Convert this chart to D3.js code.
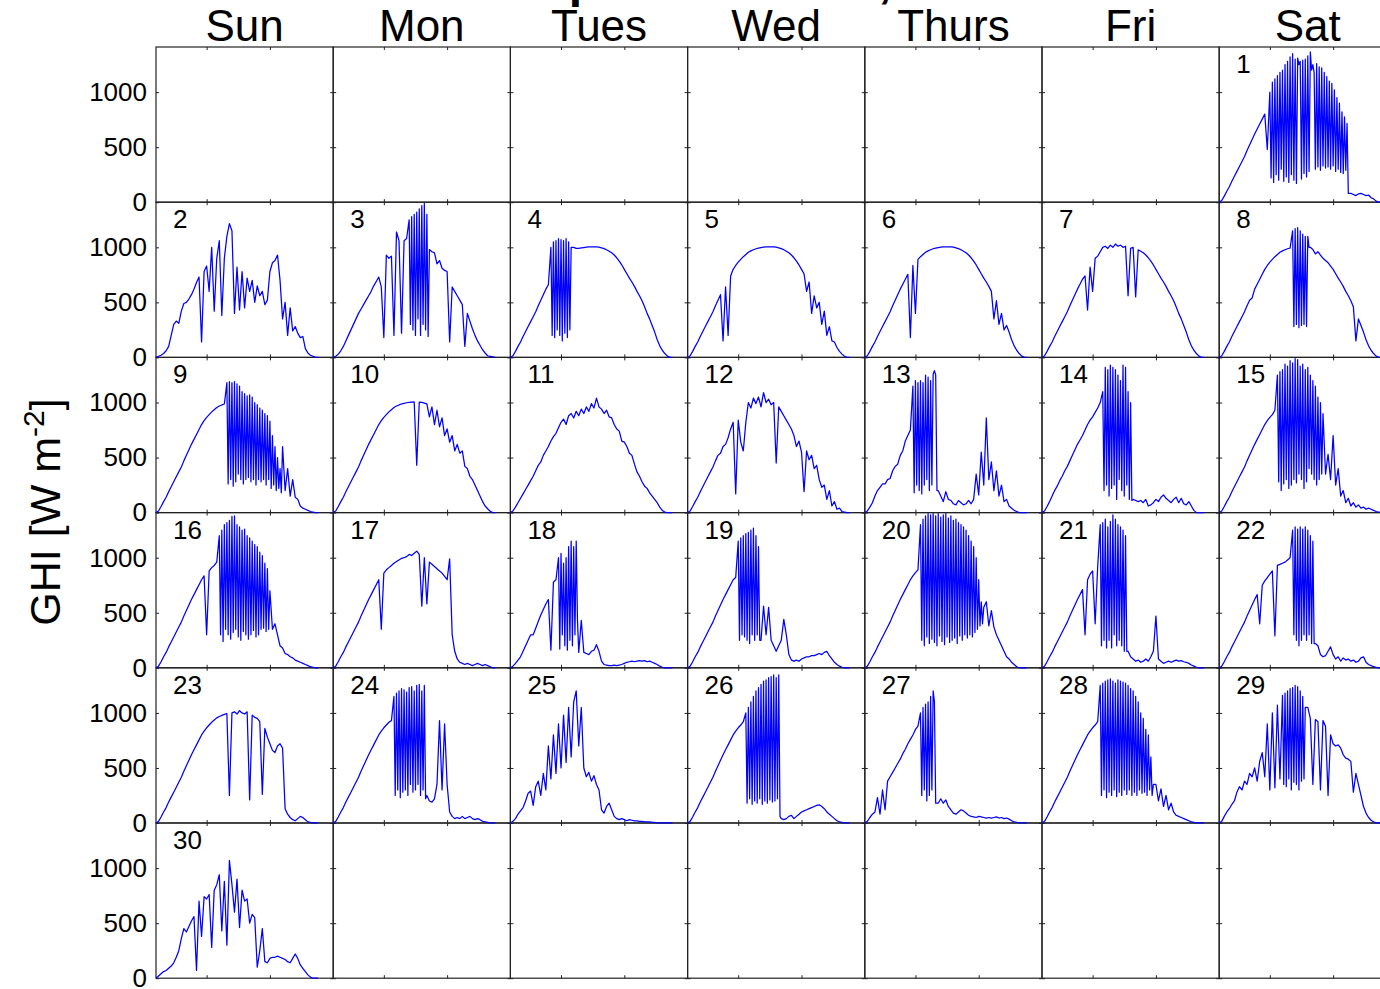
<!DOCTYPE html>
<html>
<head>
<meta charset="utf-8">
<script src="https://cdn.jsdelivr.net/npm/d3@7"></script>
<style>
body { margin: 0; background: #fff; }
svg { display: block; font-family: "Liberation Sans", Arial, Helvetica, sans-serif; }
</style>
</head>
<body>
<div id="chart"></div>
<script>
var weekdays = ["Sun", "Mon", "Tues", "Wed", "Thurs", "Fri", "Sat"];
var xTicks = [10, 15];
var yTicks = [0, 500, 1000];

// local time of each sample (h)
var hours = [6,6.2,6.4,6.6,6.8,7,7.2,7.4,7.6,7.8,
	8,8.2,8.4,8.6,8.8,9,9.2,9.4,9.6,9.8,
	10,10.2,10.4,10.6,10.8,11,11.2,11.4,11.6,11.8,
	12,12.2,12.4,12.6,12.8,13,13.2,13.4,13.6,13.8,
	14,14.2,14.4,14.6,14.8,15,15.2,15.4,15.6,15.8,
	16,16.2,16.4,16.6,16.8,17,17.2,17.4,17.6,17.8,
	18,18.2,18.4,18.6,18.8];

// GHI in W m-2, one array per day
var sep01 = [0,15,55,100,140,190,235,280,325,370, 415,470,520,570,620,665,710,755,800,480, 1080,250,1150,190,1200,210,1280,230,1340,200, 1300,180,1270,1100,220,1360,260,1300,300,1240, 310,1200,320,1150,300,1050,310,1000,290,850, 260,720,80,70,60,75,80,70,60,65, 40,30,10,0,0];
var sep02 = [0,10,20,35,60,100,200,300,330,310, 420,490,500,530,570,620,680,730,140,780, 830,600,1000,420,900,1060,380,900,1100,1215, 1150,400,820,430,780,450,720,600,700,500, 650,560,600,480,520,780,860,880,930,700, 350,500,200,450,240,280,220,180,190,80, 40,20,10,0,0];
var sep03 = [0,10,30,60,100,150,200,250,300,350, 400,440,480,520,560,600,650,690,730,640, 180,930,900,920,200,1140,1060,220,1060,1080, 1250,250,1300,200,1380,300,1250,190,980,960, 950,850,880,810,790,780,140,640,600,560, 520,480,100,400,330,260,200,150,110,70, 40,15,10,5,0];
var sep04 = [0,15,55,100,140,190,235,280,325,370, 415,470,520,570,620,660,200,1050,180,1080, 250,1070,150,1060,220,1000,990,990,995,998, 1001,1004,1005,1005,1004,1001,995,988,978,965, 950,930,905,875,840,800,760,720,685,645, 600,560,515,460,400,350,290,230,160,105, 65,35,12,0,0];
var sep05 = [0,15,55,100,140,190,235,280,325,370, 415,470,520,570,150,640,200,740,800,835, 865,890,915,935,955,968,978,987,993,998, 1001,1004,1005,1005,1004,1001,995,988,978,965, 950,930,905,875,840,800,760,600,685,400, 560,450,500,300,420,200,280,150,140,90, 55,30,10,0,0];
var sep06 = [0,15,55,100,140,190,235,280,325,370, 415,470,520,570,620,665,710,755,180,835, 400,890,915,935,955,968,978,987,993,998, 1001,1004,1005,1005,1004,1001,995,988,978,965, 950,930,905,875,840,800,760,720,685,645, 600,350,515,300,400,250,290,230,160,105, 65,35,12,0,0];
var sep07 = [0,15,55,100,140,190,235,280,325,370, 415,470,520,570,620,665,710,740,430,820, 600,900,920,960,1000,1010,990,1020,1000,1030, 1010,1020,1000,1010,560,990,1000,550,978,965, 950,930,905,875,840,800,760,720,685,645, 600,560,515,460,400,350,290,230,160,105, 65,35,12,0,0];
var sep08 = [0,15,55,100,140,190,235,280,325,370, 415,470,520,540,620,665,710,755,800,835, 865,890,915,935,955,968,978,987,993,1150, 280,1180,270,1150,300,1100,1000,980,940,960, 930,900,880,860,830,800,760,720,685,645, 600,560,515,460,150,350,290,230,160,105, 65,35,12,0,0];
var sep09 = [0,15,55,100,140,190,235,280,325,370, 415,470,520,570,620,665,710,755,800,835, 865,890,915,935,955,968,978,987,1180,260, 1190,240,1170,350,1100,300,1060,260,1050,320, 1000,280,950,300,930,250,900,300,830,220, 600,200,400,150,300,140,120,60,40,30, 20,10,5,0,0];
var sep10 = [0,15,55,100,140,190,235,280,325,370, 415,470,520,570,620,665,710,755,800,835, 865,890,915,935,955,968,978,987,993,998, 1001,1004,1005,430,1004,1001,995,988,870,960, 800,930,780,860,700,760,640,700,560,620, 540,560,420,400,330,300,250,200,150,100, 60,35,12,0,0];
var sep11 = [0,15,50,90,130,170,210,250,290,330, 380,430,460,520,560,600,650,690,720,770, 820,850,800,880,900,860,920,880,940,900, 960,920,990,950,1040,960,940,900,930,870, 860,800,760,740,650,640,600,540,520,440, 370,330,280,240,220,180,150,120,90,50, 20,5,0,0,0];
var sep12 = [0,15,55,100,140,190,235,280,325,370, 415,470,520,540,600,620,680,760,820,170, 840,640,560,820,1000,950,1040,990,1050,960, 1090,1000,1030,980,1000,450,960,920,880,840, 800,760,700,600,650,550,190,560,480,520, 400,430,300,230,250,120,200,60,100,30, 40,10,5,0,0];
var sep13 = [0,15,50,90,150,200,230,260,260,300, 310,380,420,440,520,560,650,700,750,1150, 180,1200,250,1180,170,1250,300,1200,1290,200, 150,100,190,120,110,80,70,110,90,70, 80,110,80,120,350,160,550,250,860,300, 460,200,380,150,250,100,120,60,40,20, 10,0,0,0,0];
var sep14 = [0,15,55,100,150,200,240,290,330,380, 420,470,520,570,620,660,700,750,800,840, 870,910,950,1000,200,1320,150,1340,250,1300, 120,1200,300,1340,150,1100,120,110,100,110, 90,120,60,70,90,120,100,140,160,130, 110,90,120,140,90,130,80,70,100,60, 20,0,0,0,0];
var sep15 = [0,15,55,100,140,190,235,280,325,370, 415,470,520,570,620,665,710,755,800,835, 865,890,930,1250,280,1300,200,1350,300,1380, 250,1400,350,1330,220,1300,400,1250,300,1200, 250,1000,350,530,300,700,250,400,150,200, 90,130,60,90,50,70,40,50,30,40, 30,20,10,5,0];
var sep16 = [0,15,55,100,140,190,235,280,325,370, 415,470,520,570,620,665,710,755,800,835, 300,880,910,930,960,1200,240,1300,300,1340, 260,1380,350,1280,280,1250,330,1200,260,1150, 340,1100,300,1020,360,900,350,400,300,200, 180,130,120,100,90,70,60,50,40,30, 20,10,5,0,0];
var sep17 = [0,15,55,100,140,190,235,280,325,370, 415,470,520,570,620,665,710,755,800,350, 860,890,910,930,950,965,980,995,1000,1010, 1030,1020,1040,1060,1030,560,1000,580,960,940, 920,900,880,860,830,800,990,300,150,80, 50,40,30,40,30,20,30,40,30,20, 30,20,10,0,0];
var sep18 = [0,15,40,70,100,150,200,250,300,300, 360,420,480,530,580,620,160,780,800,1000, 170,1040,200,1000,160,1150,250,1150,430,140, 130,120,150,160,210,150,60,30,25,20, 20,25,20,25,30,40,50,55,60,55, 60,65,60,65,55,60,50,40,30,15, 5,0,0,0,0];
var sep19 = [0,15,55,100,140,190,235,280,325,370, 415,470,520,570,620,665,710,755,800,820, 1150,250,1200,280,1230,220,1270,300,1100,250, 560,300,550,250,200,150,200,250,440,300, 120,70,60,70,60,80,90,100,100,110, 110,120,130,120,140,150,110,80,50,30, 15,5,0,0,0];
var sep20 = [0,15,55,100,140,190,235,280,325,370, 415,470,520,570,620,665,710,755,800,835, 865,890,1300,250,1360,200,1400,280,1380,220, 1400,260,1370,200,1390,290,1360,230,1340,270, 1300,250,1250,280,1150,300,1000,350,600,380, 520,370,300,250,200,150,100,80,50,30, 10,0,0,0,0];
var sep21 = [0,15,55,100,140,190,235,280,325,370, 415,470,520,570,620,665,710,300,800,850, 880,400,920,1300,200,1350,250,1280,180,1390, 300,1300,200,1250,150,100,80,60,70,50, 60,80,60,100,150,470,80,60,40,50, 60,50,60,70,60,65,55,50,40,25, 15,5,0,0,0];
var sep22 = [0,15,55,100,140,190,235,280,325,370, 415,470,520,570,620,665,400,750,790,820, 850,880,290,930,940,950,960,980,1000,1250, 300,1280,200,1260,250,1280,300,1200,220,200, 120,100,110,150,190,120,80,100,60,90, 70,80,60,70,50,60,90,100,50,30, 20,10,5,0,0];
var sep23 = [0,15,55,100,140,190,235,280,325,370, 415,470,520,570,620,665,710,755,800,835, 865,890,915,935,955,968,978,987,993,250, 1000,1010,990,1020,1000,990,1010,210,980,960, 950,920,260,860,780,720,660,640,700,720, 680,130,80,50,30,20,40,60,50,30, 10,5,0,0,0];
var sep24 = [0,15,55,100,140,190,235,280,325,370, 415,470,520,570,620,665,710,755,800,835, 865,890,915,930,1150,250,1200,230,1220,300, 1190,250,1230,280,1200,350,1260,250,200,190, 220,350,930,300,900,350,100,60,40,50, 40,60,40,50,60,40,30,40,30,15, 10,5,0,0,0];
var sep25 = [0,15,40,80,110,140,200,270,290,160, 330,380,250,450,300,700,400,800,450,900, 500,980,550,1050,600,1100,1200,700,1050,500, 420,460,380,430,350,300,120,90,150,180, 120,60,40,30,40,30,20,30,25,20, 20,15,15,10,10,10,5,5,0,0, 0,0,0,0,0];
var sep26 = [0,15,55,100,140,190,235,280,325,370, 415,470,520,570,620,665,710,755,800,835, 865,890,920,1000,200,1100,180,1200,220,1250, 170,1300,200,1320,180,1345,200,40,30,40, 60,70,40,60,80,100,110,120,130,140, 150,160,165,150,130,100,80,60,40,20, 10,5,0,0,0];
var sep27 = [0,15,50,80,100,230,80,300,120,380, 420,460,500,540,580,630,670,720,760,800, 850,880,1000,250,1050,200,1100,300,1200,180, 220,180,210,150,120,90,80,100,120,110, 90,70,60,55,50,60,55,50,45,50, 45,50,55,45,50,40,45,35,20,10, 5,0,0,0,0];
var sep28 = [0,15,55,100,140,190,235,280,325,370, 415,470,520,570,620,665,710,755,800,835, 865,890,920,1250,250,1290,230,1310,280,1270, 300,1300,250,1280,270,1250,300,1200,250,1100, 300,950,280,800,250,350,200,310,150,250, 120,180,100,70,60,50,40,30,20,10, 5,0,0,0,0];
var sep29 = [0,15,60,100,130,170,200,280,330,300, 380,350,450,420,500,380,560,640,420,900, 300,1000,320,1070,400,1160,330,1200,300,1230, 350,1250,300,1200,400,1050,950,350,940,920, 300,930,880,250,800,720,700,710,680,620, 590,580,560,280,450,350,250,150,90,50, 25,10,0,0,0];
var sep30 = [0,20,40,60,70,90,110,140,190,250, 360,450,420,470,520,560,70,700,380,740, 720,760,280,800,850,940,430,880,300,1070, 850,600,900,460,800,700,720,500,580,550, 100,250,450,150,140,180,190,190,200,190, 180,170,150,140,180,220,180,120,90,60, 30,10,0,0,0];

var daySeries = [sep01, sep02, sep03, sep04, sep05, sep06, sep07, sep08, sep09, sep10,
	sep11, sep12, sep13, sep14, sep15, sep16, sep17, sep18, sep19, sep20,
	sep21, sep22, sep23, sep24, sep25, sep26, sep27, sep28, sep29, sep30];

// broken-cloud spells, read at 6-minute steps (these replace the coarse samples inside them)
var sep01b = [1000,220,1090,180,1120,250,1150,200,1180,300, 1200,190,1250,230,1280,180,1320,250,1350,200, 1300,170,1310,1250,1280,210,1290,260,1300,230, 1330,280,1365,1200,1250,1180,300,1260,320,1230, 290,1220,330,1180,310,1140,320,1100,300,1080, 330,1020,280,950,300,900,270,820,260,775, 290,715,80];
var sep03b = [1250,300,1280,250,1300,200,1320,350,1350,200, 1380,300,1400,250,1300,190];
var sep04b = [1000,200,1050,180,1060,250,1080,200,1070,150, 1060,220,1080,180,1050,250,1000];
var sep08b = [1150,280,1170,300,1180,270,1150,290,1120,300, 1100,280,1100,1000];
var sep09b = [1180,260,1190,300,1180,240,1190,280,1170,350, 1150,300,1100,260,1080,300,1060,320,1070,280, 1050,300,1000,250,980,300,950,280,930,300, 900,250,880,300,830,220,700,250,600,200, 500,220,400,180,600];
var sep13b = [1150,180,1200,250,1180,200,1200,170,1180,250, 1250,300,1230,200,1200,250,1260,1290,1250,200];
var sep14b = [1100,200,1320,250,1300,150,1340,220,1320,250, 1300,120,1250,300,1200,200,1340,150,1320,250, 1100,120,1000,110];
var sep15b = [1250,280,1280,200,1300,260,1350,300,1330,220, 1380,250,1360,300,1400,270,1390,350,1330,300, 1350,220,1300,280,1320,400,1250,350,1200,300, 1150,250,1050,300,1000,350,900];
var sep16b = [1200,300,1250,240,1300,350,1320,300,1340,260, 1375,320,1380,350,1300,280,1280,250,1250,330, 1260,300,1200,260,1180,300,1150,340,1120,280, 1100,300,1050,350,1020,360,950,330,900,350, 700];
var sep18b = [1000,170,1040,300,950,200,1000,160,1100,250, 1150,200,1100,300,1150,430,140];
var sep19b = [1150,250,1180,300,1200,280,1220,250,1230,220, 1250,300,1270,250,1200,300,1100,250];
var sep20b = [1300,250,1350,200,1380,280,1400,220,1390,260, 1400,230,1380,200,1400,290,1370,240,1390,210, 1400,280,1360,230,1380,250,1340,270,1350,220, 1320,290,1300,250,1280,300,1250,270,1200,300, 1150,280,1100,320,1000,350,800,380,600,400, 550];
var sep21b = [1300,200,1320,250,1350,180,1280,250,1330,180, 1390,300,1350,200,1300,250,1280,200,1250,150, 1200,150];
var sep22b = [1250,300,1280,250,1260,200,1280,250,1260,300, 1280,250,1250,300,1200,220,1150,220];
var sep24b = [1150,250,1180,300,1200,230,1220,280,1210,300, 1190,250,1230,350,1240,280,1200,300,1250,350, 1260,250,1200,300,1250,220,250];
var sep26b = [1000,180,1050,220,1100,170,1150,200,1200,180, 1230,220,1260,170,1290,200,1300,180,1320,210, 1330,190,1345,200,1320,220,1345,60];
var sep27b = [1000,250,1050,300,1080,200,1100,250,1150,300, 1200,1100,180];
var sep28b = [1250,250,1270,300,1290,230,1300,280,1310,250, 1290,300,1270,240,1300,280,1290,250,1280,300, 1270,260,1250,300,1220,250,1200,280,1150,250, 1100,300,1000,270,950,280,850,250,800,300, 600,250,350];
var sep29b = [1160,350,1180,330,1200,400,1220,300,1230,370, 1250,350,1240,300,1200,380,1150,400,1050];

var burstDay = [1, 3, 4, 8, 9, 13, 14, 15, 16, 18, 19, 20, 21, 22, 24, 26, 27, 28, 29];
var burstStart = [10.0, 12.0, 9.2, 11.8, 11.6, 9.8, 10.8, 10.6, 11.0, 9.8, 10.0, 10.4, 10.6, 11.8, 10.8, 10.6, 10.4, 10.6, 11.0];
var burstVals = [sep01b, sep03b, sep04b, sep08b, sep09b, sep13b, sep14b, sep15b, sep16b, sep18b,
	sep19b, sep20b, sep21b, sep22b, sep24b, sep26b, sep27b, sep28b, sep29b];
var burstStep = 0.1;

var firstWeekday = 6; // 1 Sept 2012 was a Saturday

var width = 1380, height = 989;
var margin = {top: 47, left: 156};
var cellW = 177.2, cellH = 155.2, nRows = 6, nCols = 7;

var svg = d3.select("#chart").append("svg")
	.attr("width", width)
	.attr("height", height);

svg.append("rect").attr("width", width).attr("height", height).attr("fill", "#fff");

var x = d3.scaleLinear().domain([6, 20]).range([0, cellW]);
var y = d3.scaleLinear().domain([0, 1410]).range([cellH, 0]);

var line = d3.line()
	.x(function(d) { return x(d[0]); })
	.y(function(d) { return y(d[1]); });

function dayPoints(k) {
	var pts = daySeries[k].map(function(v, i) { return [hours[i], v]; });
	var b = burstDay.indexOf(k + 1);
	if (b >= 0) {
		var s = burstStart[b], vals = burstVals[b];
		var e = s + (vals.length - 1) * burstStep;
		pts = pts.filter(function(p) { return p[0] < s - 1e-6 || p[0] > e + 1e-6; });
		vals.forEach(function(v, j) { pts.push([s + j * burstStep, v]); });
		pts.sort(function(a, c) { return a[0] - c[0]; });
	}
	return pts;
}

// title is cut off by the top of the figure, only descenders show
svg.append("text")
	.attr("x", 510)
	.attr("y", -3)
	.style("font-size", "48px")
	.style("font-weight", "bold")
	.text("September 2012,");

svg.selectAll(".dayname")
	.data(weekdays)
  .enter().append("text")
	.attr("class", "dayname")
	.attr("x", function(d, i) { return margin.left + i * cellW + cellW / 2; })
	.attr("y", 41)
	.attr("text-anchor", "middle")
	.style("font-size", "44px")
	.text(function(d) { return d; });

function noText() { return ""; }

for (var r = 0; r < nRows; r++) {
	for (var c = 0; c < nCols; c++) {
		var g = svg.append("g")
			.attr("transform", "translate(" + (margin.left + c * cellW) + "," + (margin.top + r * cellH) + ")");

		g.append("g").attr("transform", "translate(0," + cellH + ")")
			.call(d3.axisBottom(x).tickValues(xTicks).tickSizeInner(-3).tickSizeOuter(0).tickFormat(noText));
		g.append("g")
			.call(d3.axisTop(x).tickValues(xTicks).tickSizeInner(-3).tickSizeOuter(0).tickFormat(noText));
		g.append("g")
			.call(d3.axisLeft(y).tickValues(yTicks).tickSizeInner(-3).tickSizeOuter(0).tickFormat(noText));
		g.append("g").attr("transform", "translate(" + cellW + ",0)")
			.call(d3.axisRight(y).tickValues(yTicks).tickSizeInner(-3).tickSizeOuter(0).tickFormat(noText));

		if (c === 0) {
			g.append("g")
				.attr("class", "ylabels")
				.call(d3.axisLeft(y).tickValues(yTicks).tickSize(0).tickPadding(9).tickFormat(d3.format("d")))
				.attr("font-size", 26)
				.attr("font-family", null);
		}

		g.append("rect")
			.attr("width", cellW)
			.attr("height", cellH)
			.attr("fill", "none")
			.attr("stroke", "#222")
			.attr("stroke-width", 1.2);
	}
}

svg.selectAll(".domain").remove();
svg.selectAll(".tick line").attr("stroke", "#222");
svg.selectAll(".ylabels text").attr("fill", "#000");

daySeries.forEach(function(vals, k) {
	var idx = k + firstWeekday;
	var row = Math.floor(idx / nCols), col = idx % nCols;
	var g = svg.append("g")
		.attr("transform", "translate(" + (margin.left + col * cellW) + "," + (margin.top + row * cellH) + ")");

	g.append("path")
		.datum(dayPoints(k))
		.attr("d", line)
		.attr("fill", "none")
		.attr("stroke", "#0000ff")
		.attr("stroke-width", 1.25)
		.attr("stroke-linejoin", "round");

	g.append("text")
		.attr("x", 17)
		.attr("y", 26)
		.style("font-size", "26px")
		.text(k + 1);
});

var ylab = svg.append("text")
	.attr("transform", "translate(60,512) rotate(-90)")
	.attr("text-anchor", "middle")
	.style("font-size", "43px");
ylab.append("tspan").text("GHI [W m");
ylab.append("tspan").attr("dy", -16).style("font-size", "30px").text("-2");
ylab.append("tspan").attr("dy", 16).style("font-size", "43px").text("]");
</script>
</body>
</html>
